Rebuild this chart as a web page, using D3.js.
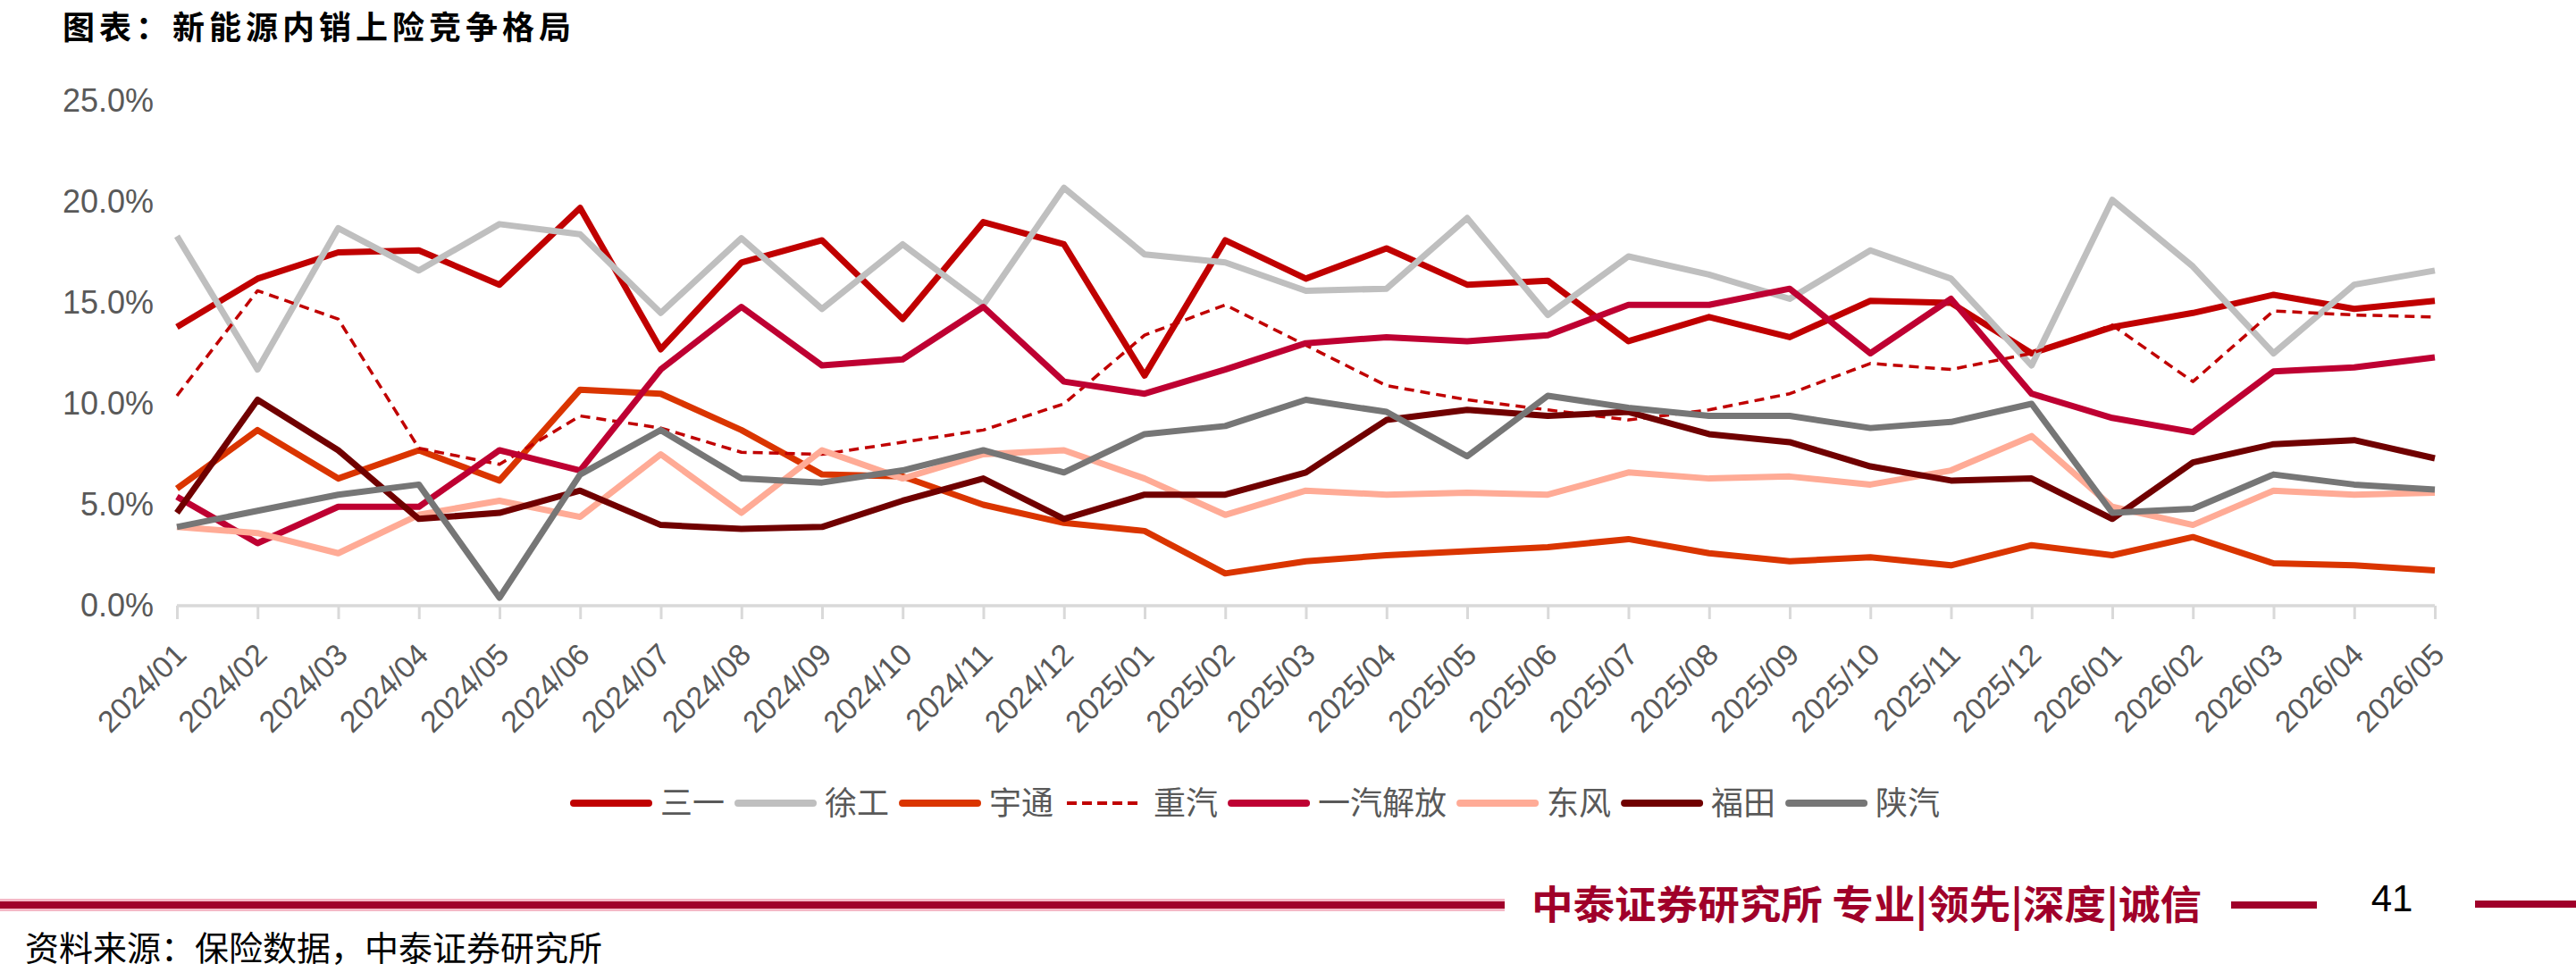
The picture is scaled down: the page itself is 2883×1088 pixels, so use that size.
<!DOCTYPE html>
<html>
<head>
<meta charset="utf-8">
<script src="https://cdn.jsdelivr.net/npm/d3@7"></script>
<style>
body { margin: 0; background: #fff; }
svg { display: block; }
</style>
</head>
<body>
<div id="chart"></div>
<script>

let width = 2883
let height = 1088

let months = ['2024/01','2024/02','2024/03','2024/04','2024/05','2024/06','2024/07','2024/08','2024/09','2024/10','2024/11','2024/12',
	'2025/01','2025/02','2025/03','2025/04','2025/05','2025/06','2025/07','2025/08','2025/09','2025/10','2025/11','2025/12',
	'2026/01','2026/02','2026/03','2026/04','2026/05']

let yTicks = [0, 5, 10, 15, 20, 25]

let names = ['三一', '徐工', '宇通', '重汽', '一汽解放', '东风', '福田', '陕汽']

let sany = [13.8,16.2,17.5,17.6,15.9,19.7,12.7,17.0,18.1,14.2,19.0,17.9,11.4,18.1,16.2,17.7,15.9,16.1,13.1,14.3,13.3,15.1,15.0,12.5,13.8,14.5,15.4,14.7,15.1]
let xcmg = [18.3,11.7,18.7,16.6,18.9,18.4,14.5,18.2,14.7,17.9,14.9,20.7,17.4,17.0,15.6,15.7,19.2,14.4,17.3,16.4,15.2,17.6,16.2,11.9,20.1,16.8,12.5,15.9,16.6]
let yutong = [5.8,8.7,6.3,7.7,6.2,10.7,10.5,8.7,6.5,6.4,5.0,4.1,3.7,1.6,2.2,2.5,2.7,2.9,3.3,2.6,2.2,2.4,2.0,3.0,2.5,3.4,2.1,2.0,1.75]
let sinotruk = [10.4,15.6,14.2,7.8,7.0,9.4,8.8,7.6,7.5,8.1,8.7,10.0,13.4,14.9,12.9,10.9,10.2,9.7,9.2,9.7,10.5,12.0,11.7,12.5,13.9,11.1,14.6,14.4,14.3]
let faw = [5.4,3.1,4.9,4.9,7.7,6.7,11.7,14.8,11.9,12.2,14.8,11.1,10.5,11.7,13.0,13.3,13.1,13.4,14.9,14.9,15.7,12.5,15.2,10.5,9.3,8.6,11.6,11.8,12.3]
let dongfeng = [3.9,3.6,2.6,4.5,5.2,4.4,7.5,4.6,7.7,6.3,7.5,7.7,6.3,4.5,5.7,5.5,5.6,5.5,6.6,6.3,6.4,6.0,6.7,8.4,4.9,4.0,5.7,5.5,5.6]
let foton = [4.6,10.2,7.7,4.3,4.6,5.7,4.0,3.8,3.9,5.2,6.3,4.3,5.5,5.5,6.6,9.2,9.7,9.4,9.6,8.5,8.1,6.9,6.2,6.3,4.3,7.1,8.0,8.2,7.3]
let shacman = [3.9,4.7,5.5,6.0,0.4,6.5,8.7,6.3,6.1,6.7,7.7,6.6,8.5,8.9,10.2,9.6,7.4,10.4,9.8,9.4,9.4,8.8,9.1,10.0,4.6,4.8,6.5,6.0,5.75]

let colors = ['#C00000', '#BFBFBF', '#DA3500', '#C00000', '#BE0032', '#FFAB96', '#700000', '#767676']
let dashed = [false, false, false, true, false, false, false, false]

let seriesValues = [sany, xcmg, yutong, sinotruk, faw, dongfeng, foton, shacman]

let series = names.map((name, i) => ({
	name: name,
	color: colors[i],
	dashed: dashed[i],
	values: seriesValues[i].map((v, j) => ({month: months[j], value: v}))
}))

let axisColor = '#D9D9D9'
let textColor = '#595959'
let latin = "'Liberation Sans', Arial, sans-serif"
let cjk = "'Noto Sans CJK SC', sans-serif"

const svg = d3.select('#chart')
	.append('svg')
	.attr('width', width)
	.attr('height', height)

svg.append('rect').attr('width', width).attr('height', height).attr('fill', '#fff')

svg.append('text')
	.attr('x', 70)
	.attr('y', 44)
	.attr('font-family', cjk)
	.attr('font-weight', 'bold')
	.attr('font-size', 36)
	.attr('letter-spacing', 5)
	.attr('fill', '#000')
	.text('图表：新能源内销上险竞争格局')

let x = d3.scalePoint()
	.domain(months)
	.range([198, 2725])

let y = d3.scaleLinear()
	.domain([0, 25])
	.range([678, 113])

// y axis: labels only
let yAxis = svg.append('g')
	.attr('transform', 'translate(172,0)')
	.call(d3.axisLeft(y).tickValues(yTicks).tickSize(0).tickPadding(0).tickFormat(d => d.toFixed(1) + '%'))
yAxis.select('.domain').remove()
yAxis.selectAll('text')
	.attr('font-family', latin)
	.attr('font-size', 36)
	.attr('fill', textColor)

// x axis
let xAxis = svg.append('g')
	.attr('transform', 'translate(0,678)')
	.call(d3.axisBottom(x).tickSize(15).tickSizeOuter(0))
xAxis.select('.domain')
	.attr('stroke', axisColor)
	.attr('stroke-width', 3.5)
	.attr('d', `M${x(months[0])},0H${x(months[months.length - 1])}`)
xAxis.selectAll('.tick line')
	.attr('stroke', axisColor)
	.attr('stroke-width', 3)
xAxis.selectAll('.tick text')
	.attr('x', 0)
	.attr('y', 0)
	.attr('dy', 0)
	.attr('transform', 'translate(12,57) rotate(-45)')
	.attr('text-anchor', 'end')
	.attr('font-family', latin)
	.attr('font-size', 34)
	.attr('fill', textColor)

let line = d3.line()
	.x(d => x(d.month))
	.y(d => y(d.value))

svg.append('g')
	.selectAll('path')
	.data(series)
	.enter()
	.append('path')
	.attr('d', d => line(d.values))
	.attr('fill', 'none')
	.attr('stroke', d => d.color)
	.attr('stroke-width', d => d.dashed ? 3.5 : 7)
	.attr('stroke-dasharray', d => d.dashed ? '11,7' : null)
	.attr('stroke-linejoin', 'round')

// legend
let legend = svg.append('g').attr('transform', 'translate(638,899)')
let lx = 0
series.forEach(s => {
	legend.append('line')
		.attr('x1', lx + 4)
		.attr('x2', lx + 88)
		.attr('y1', 0)
		.attr('y2', 0)
		.attr('stroke', s.color)
		.attr('stroke-width', s.dashed ? 4 : 8)
		.attr('stroke-linecap', s.dashed ? 'butt' : 'round')
		.attr('stroke-dasharray', s.dashed ? '11,6' : null)
	let t = legend.append('text')
		.attr('x', lx + 101)
		.attr('y', 0)
		.attr('dy', '0.35em')
		.attr('font-family', cjk)
		.attr('font-size', 36)
		.attr('fill', textColor)
		.text(s.name)
	lx += 101 + t.node().getComputedTextLength() + 11
})

// footer
let footer = svg.append('g')
footer.append('line')
	.attr('x1', 0).attr('x2', 1684).attr('y1', 1013).attr('y2', 1013)
	.attr('stroke', '#F4B8C6').attr('stroke-width', 14)
footer.append('line')
	.attr('x1', 0).attr('x2', 1684).attr('y1', 1013).attr('y2', 1013)
	.attr('stroke', '#A0002A').attr('stroke-width', 8)
footer.append('text')
	.attr('x', 1714)
	.attr('y', 1013)
	.attr('dy', '0.36em')
	.attr('font-family', cjk)
	.attr('font-weight', 'bold')
	.attr('font-size', 44)
	.attr('textLength', 750)
	.attr('lengthAdjust', 'spacingAndGlyphs')
	.attr('fill', '#A0002A')
	.text('中泰证券研究所 专业|领先|深度|诚信')
footer.append('line')
	.attr('x1', 2497).attr('x2', 2593).attr('y1', 1013).attr('y2', 1013)
	.attr('stroke', '#A0002A').attr('stroke-width', 8)
footer.append('text')
	.attr('x', 2677)
	.attr('y', 1020)
	.attr('text-anchor', 'middle')
	.attr('font-family', latin)
	.attr('font-size', 42)
	.attr('fill', '#000')
	.text('41')
footer.append('line')
	.attr('x1', 2770).attr('x2', width).attr('y1', 1012).attr('y2', 1012)
	.attr('stroke', '#A0002A').attr('stroke-width', 8)

svg.append('text')
	.attr('x', 28)
	.attr('y', 1061)
	.attr('dy', '0.36em')
	.attr('font-family', cjk)
	.attr('font-size', 38)
	.attr('fill', '#000')
	.text('资料来源：保险数据，中泰证券研究所')

</script>
</body>
</html>
